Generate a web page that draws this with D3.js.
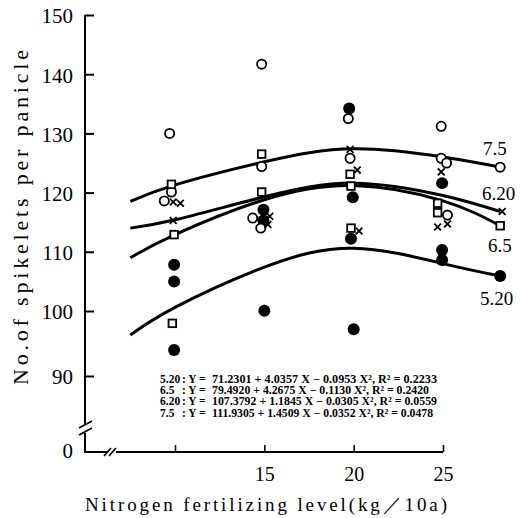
<!DOCTYPE html>
<html><head><meta charset="utf-8">
<script src="https://cdn.jsdelivr.net/npm/d3@7/dist/d3.min.js"></script>
<style>
html,body{margin:0;padding:0;background:#fff;}
svg{display:block;}
text{font-family:"Liberation Serif","Times New Roman",serif;fill:#000;}
</style></head>
<body>
<svg id="chart" width="520" height="518"></svg>
<script>
// ---- data ----
const yTicks = [90, 100, 110, 120, 130, 140, 150];
const xTicks = [10, 15, 20, 25];
const xTickLabels = ["", "15", "20", "25"];
const zeroLabel = "0";

// fitted curves
const curveX = [7.5, 10, 15, 20, 25, 28.2];
const curve75 = [118.5, 121.3, 125.2, 127.4, 126.0, 124.3];
const curve620 = [114.0, 115.4, 119.3, 121.6, 119.5, 116.8];
const curve65 = [109.0, 112.9, 118.8, 121.2, 118.6, 114.4];
const curve520 = [96.3, 100.6, 107.4, 110.6, 108.0, 105.9];

// observed points
const open75X = [9.7, 9.8, 9.4, 14.85, 14.85, 14.35, 14.8, 19.7, 19.8, 24.9, 24.9, 25.2, 25.25];
const open75Y = [130.0, 120.1, 118.6, 141.7, 124.4, 115.7, 114.0, 132.5, 125.8, 131.2, 125.8, 125.0, 116.2];
const cross620X = [9.9, 10.3, 9.9, 15.3, 15.2, 19.8, 20.2, 20.3, 24.9, 24.7, 25.25];
const cross620Y = [118.4, 118.2, 115.3, 116.0, 114.6, 127.3, 123.8, 113.5, 123.5, 114.2, 114.7];
const sq65X = [9.8, 9.95, 9.85, 14.85, 14.85, 19.8, 19.85, 19.85, 24.7, 24.7];
const sq65Y = [121.4, 112.9, 98.1, 126.5, 120.1, 123.1, 121.1, 114.0, 118.2, 116.6];
const fill520X = [9.95, 9.95, 9.95, 14.95, 14.95, 15.0, 19.75, 19.95, 19.85, 20.0, 24.95, 24.95, 24.95];
const fill520Y = [107.8, 105.0, 94.0, 117.1, 115.3, 100.05, 134.2, 119.2, 112.2, 97.2, 121.6, 110.3, 108.6];

const seriesNames = ["7.5", "6.20", "6.5", "5.20"];

const eqLabels = ["5.20", "6.5", "6.20", "7.5"];
const eqBodies = [
  "71.2301 + 4.0357 X − 0.0953 X², R² = 0.2233",
  "79.4920 + 4.2675 X − 0.1130 X², R² = 0.2420",
  "107.3792 + 1.1845 X − 0.0305 X², R² = 0.0559",
  "111.9305 + 1.4509 X − 0.0352 X², R² = 0.0478"
];
const xTitle = "Nitrogen fertilizing level(kg／10a)";
const yTitle = "No.of spikelets per panicle";

// ---- layout ----
const svg = d3.select("#chart");
const axisX0 = 85, axisY0 = 452;
const x = d3.scaleLinear().domain([10, 25]).range([175, 443]);
const y = d3.scaleLinear().domain([90, 100, 150]).range([376, 311, 15]);

// y axis
const yAxis = d3.axisLeft(y).tickValues(yTicks).tickSizeInner(-9).tickSizeOuter(0).tickPadding(12);
const gy = svg.append("g").attr("transform", `translate(${axisX0},0)`).call(yAxis);
gy.select(".domain").remove();
gy.selectAll(".tick line").attr("stroke", "#000").attr("stroke-width", 2);
gy.selectAll(".tick text").attr("font-size", 21).attr("font-family", "Liberation Serif").attr("dy", "0.38em");

// x axis
const xAxis = d3.axisBottom(x).tickValues(xTicks).tickSizeInner(-7).tickSizeOuter(0).tickPadding(15)
  .tickFormat((d, i) => xTickLabels[i]);
const gx = svg.append("g").attr("transform", `translate(0,${axisY0})`).call(xAxis);
gx.select(".domain").remove();
gx.selectAll(".tick line").attr("stroke", "#000").attr("stroke-width", 1.6);
gx.selectAll(".tick text").attr("font-size", 20).attr("font-family", "Liberation Serif");

// axis lines with breaks
const axisG = svg.append("g").attr("stroke", "#000").attr("fill", "none").attr("stroke-width", 2);
axisG.append("path").attr("d", `M${axisX0},${y(150)}V${axisY0 - 28}`);
axisG.append("path").attr("d", `M${axisX0},${axisY0 - 19}V${axisY0}H${axisX0 + 23}`);
axisG.append("path").attr("d", `M${axisX0 + 31},${axisY0}H${x(25)}`);
// break marks
axisG.append("path").attr("stroke-width", 1.6)
  .attr("d", `M${axisX0 - 6},${axisY0 - 24}L${axisX0 + 7},${axisY0 - 31}M${axisX0 - 6},${axisY0 - 17}L${axisX0 + 7},${axisY0 - 24}`);
axisG.append("path").attr("stroke-width", 1.6)
  .attr("d", `M${axisX0 + 19},${axisY0 + 4}L${axisX0 + 26},${axisY0 - 4}M${axisX0 + 24},${axisY0 + 4}L${axisX0 + 31},${axisY0 - 4}`);

svg.append("text").attr("x", axisX0 - 12).attr("y", axisY0).attr("dy", "0.3em")
  .attr("text-anchor", "end").attr("font-size", 21).text(zeroLabel);

// curves
const line = d3.line().x(d => x(d[0])).y(d => y(d[1])).curve(d3.curveNatural);
const curves = [curve75, curve620, curve65, curve520];
curves.forEach(c => {
  svg.append("path").datum(curveX.map((v, i) => [v, c[i]]))
    .attr("d", line).attr("fill", "none").attr("stroke", "#000").attr("stroke-width", 3);
});

// marker drawers
function openCircle(g, px, py) {
  g.append("circle").attr("cx", px).attr("cy", py).attr("r", 4.6).attr("fill", "#fff").attr("stroke", "#000").attr("stroke-width", 1.8);
}
function filledCircle(g, px, py) {
  g.append("circle").attr("cx", px).attr("cy", py).attr("r", 6).attr("fill", "#000");
}
function square(g, px, py) {
  g.append("rect").attr("x", px - 3.8).attr("y", py - 3.8).attr("width", 7.6).attr("height", 7.6)
    .attr("fill", "#fff").attr("stroke", "#000").attr("stroke-width", 1.8);
}
function cross(g, px, py) {
  const s = 3.4;
  g.append("path").attr("d", `M${px - s},${py - s}L${px + s},${py + s}M${px + s},${py - s}L${px - s},${py + s}`)
    .attr("stroke", "#000").attr("stroke-width", 1.8);
}
const mg = svg.append("g");
fill520X.forEach((v, i) => filledCircle(mg, x(v), y(fill520Y[i])));
open75X.forEach((v, i) => openCircle(mg, x(v), y(open75Y[i])));
sq65X.forEach((v, i) => square(mg, x(v), y(sq65Y[i])));
cross620X.forEach((v, i) => cross(mg, x(v), y(cross620Y[i])));

// end markers + labels
const last = curveX.length - 1;
const endX = x(curveX[last]);
openCircle(mg, endX, y(curve75[last]));
cross(mg, endX + 2, y(curve620[last]));
square(mg, endX, y(curve65[last]));
filledCircle(mg, endX, y(curve520[last]));

const labelPos = [[483, 155], [482, 200], [488, 252], [480, 305]];
seriesNames.forEach((n, i) => {
  svg.append("text").attr("x", labelPos[i][0]).attr("y", labelPos[i][1])
    .attr("font-size", 19).text(n);
});

// equations
const eqG = svg.append("g").attr("font-size", 11.5).attr("font-weight", "bold");
eqLabels.forEach((l, i) => {
  const by = 383 + i * 11.2;
  eqG.append("text").attr("x", 160).attr("y", by).text(l);
  eqG.append("text").attr("x", 182).attr("y", by).text(": Y =");
  eqG.append("text").attr("x", 212).attr("y", by).attr("textLength", [225, 217, 225, 221][i])
    .attr("lengthAdjust", "spacingAndGlyphs").text(eqBodies[i]);
});

// axis titles
svg.append("text").attr("x", 85).attr("y", 511).attr("font-size", 19)
  .attr("textLength", 362).attr("lengthAdjust", "spacing").text(xTitle);
svg.append("text").attr("transform", "translate(28,385) rotate(-90)").attr("font-size", 22)
  .attr("textLength", 335).attr("lengthAdjust", "spacing").text(yTitle);
</script>
</body></html>
